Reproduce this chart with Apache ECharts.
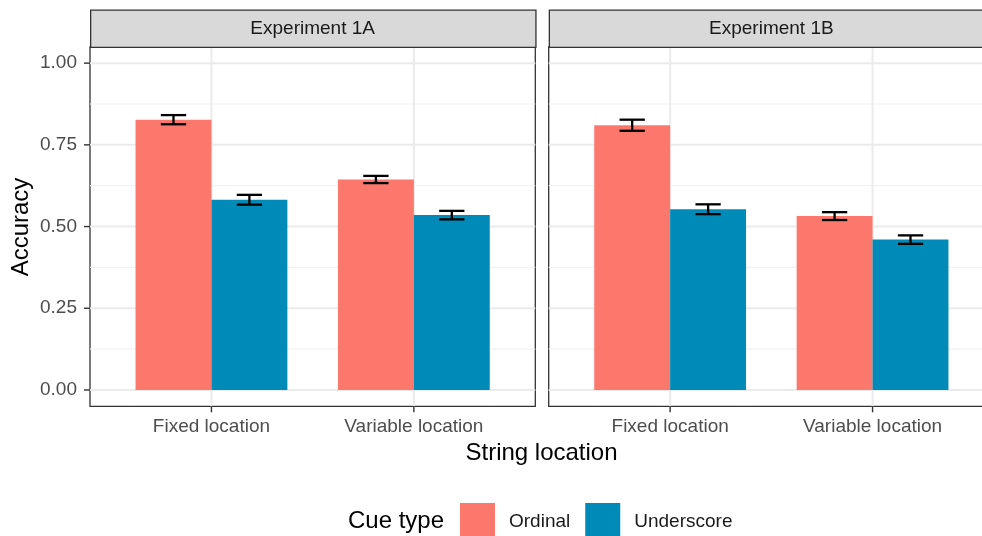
<!DOCTYPE html>
<html>
<head>
<meta charset="utf-8">
<script src="https://cdn.jsdelivr.net/npm/echarts@6/dist/echarts.min.js"></script>
<style>
html,body{margin:0;padding:0;background:#fff;overflow:hidden;}
#chart{width:1000px;height:536px;}
</style>
</head>
<body>
<div id="chart"></div>
<script>
// ---- data ----
const categories = ['Fixed location', 'Variable location'];
const experiments = ['Experiment 1A', 'Experiment 1B'];
const cueTypes = ['Ordinal', 'Underscore'];
const ordinal1A = [0.827, 0.644];
const underscore1A = [0.582, 0.535];
const ordinal1B = [0.810, 0.532];
const underscore1B = [0.553, 0.460];
const ordinalSE1A = [0.014, 0.011];
const underscoreSE1A = [0.015, 0.013];
const ordinalSE1B = [0.017, 0.012];
const underscoreSE1B = [0.015, 0.013];
const yTicks = [0, 0.25, 0.5, 0.75, 1];
const yMinorTicks = [0.125, 0.375, 0.625, 0.875];
const xTicks = [1, 2];

// ---- style / layout ----
const colors = {Ordinal: '#FD786C', Underscore: '#008AB8'};
const FONT = "'Liberation Sans', Arial, Helvetica, sans-serif";
const panels = [
  {left: 90, top: 46.8, width: 445.3, height: 359.5},
  {left: 548.7, top: 46.8, width: 445.3, height: 359.5}
];
const stripTop = 9.5, stripH = 37.3;
const dodge = 0.375;   // each bar width in category units
const capHalf = 0.0625;
const tickLen = 6;

const chart = echarts.init(document.getElementById('chart'), null, {renderer: 'canvas'});

const seriesData = [
  [ordinal1A, underscore1A],
  [ordinal1B, underscore1B]
];
const seData = [
  [ordinalSE1A, underscoreSE1A],
  [ordinalSE1B, underscoreSE1B]
];

const grids = [], xAxes = [], yAxes = [], series = [], graphics = [];

panels.forEach((p, gi) => {
  grids.push({left: p.left, top: p.top, width: p.width, height: p.height,
    show: true, backgroundColor: '#fff', borderColor: '#333333', borderWidth: 1.3, z: 0});
  xAxes.push({
    type: 'value', gridIndex: gi, min: 0.4, max: 2.6,
    axisLine: {show: false},
    splitLine: {show: false},
    axisTick: {show: false},
    axisLabel: {show: true, customValues: xTicks, margin: 11,
      formatter: v => categories[Math.round(v) - 1] || '',
      color: '#4d4d4d', fontSize: 19, fontFamily: FONT}
  });
  yAxes.push({
    type: 'value', gridIndex: gi, min: -0.05, max: 1.05,
    axisLine: {show: false},
    splitLine: {show: false},
    axisTick: {show: false},
    axisLabel: {show: gi === 0, customValues: yTicks, margin: 13,
      formatter: v => v.toFixed(2),
      color: '#4d4d4d', fontSize: 19, fontFamily: FONT}
  });

  // gridlines (minor + major horizontal, major vertical) and axis ticks
  const gl = [];
  yMinorTicks.forEach(v => gl.push([1, v, 0]));
  yTicks.forEach(v => gl.push([1, v, 1]));
  xTicks.forEach(v => gl.push([v, 0, 2]));
  xTicks.forEach(v => gl.push([v, 0, 3]));
  if (gi === 0) yTicks.forEach(v => gl.push([1, v, 4]));
  series.push({
    type: 'custom', xAxisIndex: gi, yAxisIndex: gi, silent: true, z: 1, clip: false,
    encode: {x: 0, y: 1},
    data: gl,
    renderItem: function (params, api) {
      const cs = params.coordSys;
      const kind = api.value(2);
      const tickStyle = {stroke: '#333333', lineWidth: 1.4};
      if (kind === 2 || kind === 3) {
        const x = api.coord([api.value(0), 0])[0];
        if (kind === 3) {
          const yb = cs.y + cs.height;
          return {type: 'line', z2: 20, shape: {x1: x, y1: yb, x2: x, y2: yb + tickLen}, style: tickStyle};
        }
        return {type: 'line', shape: {x1: x, y1: cs.y, x2: x, y2: cs.y + cs.height},
          style: {stroke: '#ebebeb', lineWidth: 2}};
      }
      const y = api.coord([1, api.value(1)])[1];
      if (kind === 4) {
        return {type: 'line', z2: 20, shape: {x1: cs.x - tickLen, y1: y, x2: cs.x, y2: y}, style: tickStyle};
      }
      return {type: 'line', shape: {x1: cs.x, y1: y, x2: cs.x + cs.width, y2: y},
        style: {stroke: kind === 1 ? '#ebebeb' : '#f2f2f2', lineWidth: kind === 1 ? 2 : 1.2}};
    }
  });

  // bars
  cueTypes.forEach((cue, si) => {
    series.push({
      type: 'custom', name: cue, xAxisIndex: gi, yAxisIndex: gi, z: 3,
      itemStyle: {color: colors[cue]},
      encode: {x: 0, y: 1},
      data: seriesData[gi][si].map((v, ci) => [ci + 1, v]),
      renderItem: function (params, api) {
        const x = api.value(0), v = api.value(1);
        const l = x + (si === 0 ? -dodge : 0);
        const tl = api.coord([l, v]);
        const br = api.coord([l + dodge, 0]);
        return {type: 'rect',
          shape: {x: tl[0], y: tl[1], width: br[0] - tl[0], height: br[1] - tl[1]},
          style: {fill: colors[cue]}};
      }
    });
  });

  // error bars
  cueTypes.forEach((cue, si) => {
    series.push({
      type: 'custom', xAxisIndex: gi, yAxisIndex: gi, z: 4, silent: true,
      encode: {x: 0, y: 1},
      data: seriesData[gi][si].map((v, ci) => [ci + 1, v, seData[gi][si][ci]]),
      renderItem: function (params, api) {
        const x = api.value(0) + (si === 0 ? -dodge / 2 : dodge / 2);
        const v = api.value(1), e = api.value(2);
        const top = api.coord([x, v + e]);
        const bot = api.coord([x, v - e]);
        const cl = api.coord([x - capHalf, v])[0];
        const cr = api.coord([x + capHalf, v])[0];
        const st = {stroke: '#000', lineWidth: 2.3};
        return {type: 'group', children: [
          {type: 'line', shape: {x1: top[0], y1: top[1], x2: bot[0], y2: bot[1]}, style: st},
          {type: 'line', shape: {x1: cl, y1: top[1], x2: cr, y2: top[1]}, style: st},
          {type: 'line', shape: {x1: cl, y1: bot[1], x2: cr, y2: bot[1]}, style: st}
        ]};
      }
    });
  });

  // facet strip
  graphics.push({type: 'rect', left: p.left, top: stripTop,
    shape: {x: 0, y: 0, width: p.width, height: stripH},
    style: {fill: '#d9d9d9', stroke: '#333333', lineWidth: 1.3}, z: 10});
  graphics.push({type: 'text', x: p.left + p.width / 2, y: stripTop + stripH / 2 + 1,
    style: {text: experiments[gi], fill: '#1a1a1a', font: '19px ' + FONT,
      textAlign: 'center', textVerticalAlign: 'middle'}, z: 11});
});

// axis titles
graphics.push({type: 'text', x: 21, y: 227, rotation: Math.PI / 2,
  style: {text: 'Accuracy', fill: '#000', font: '24px ' + FONT,
    textAlign: 'center', textVerticalAlign: 'middle'}, z: 11});
graphics.push({type: 'text', x: 541.5, y: 453,
  style: {text: 'String location', fill: '#000', font: '24px ' + FONT,
    textAlign: 'center', textVerticalAlign: 'middle'}, z: 11});
// legend title
graphics.push({type: 'text', x: 348, y: 521,
  style: {text: 'Cue type', fill: '#000', font: '24px ' + FONT,
    textAlign: 'left', textVerticalAlign: 'middle'}, z: 11});

chart.setOption({
  animation: false,
  backgroundColor: '#fff',
  grid: grids,
  xAxis: xAxes,
  yAxis: yAxes,
  legend: {
    data: cueTypes, left: 460, top: 503, orient: 'horizontal', padding: 0,
    icon: 'rect', itemWidth: 35, itemHeight: 33, itemGap: 15,
    selectedMode: false,
    formatter: name => '{t|' + name + '}',
    textStyle: {fontSize: 19, color: '#1a1a1a', fontFamily: FONT,
      rich: {t: {fontSize: 19, color: '#1a1a1a', fontFamily: FONT, padding: [5, 0, 0, 9]}}}
  },
  graphic: graphics,
  series: series
});
</script>
</body>
</html>
